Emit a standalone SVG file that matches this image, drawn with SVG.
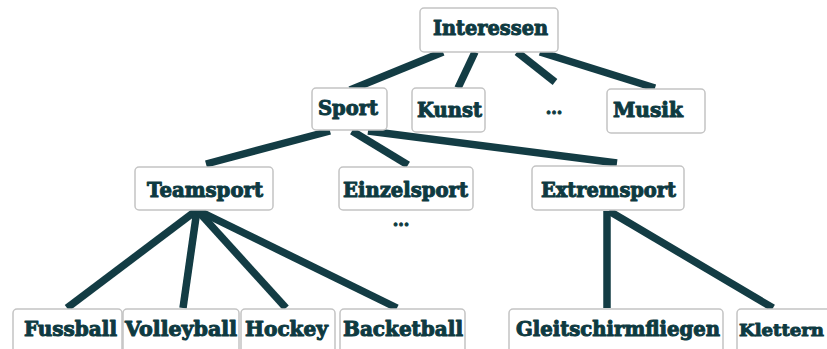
<svg xmlns="http://www.w3.org/2000/svg" width="827" height="349" viewBox="0 0 827 349">
  <style>
    .box { fill: #ffffff; stroke: #c4c4c4; stroke-width: 1.5; }
    .lbl { font-family: "DejaVu Serif", "Liberation Serif", serif; font-weight: bold; font-size: 19.5px; fill: #0e3a41; stroke: #0e3a41; stroke-width: 1; stroke-linejoin: round; }
    .dots { font-family: "DejaVu Serif", "Liberation Serif", serif; font-weight: bold; font-size: 16px; fill: #0e3a41; stroke: #0e3a41; stroke-width: 1; text-anchor: middle; }
    .edge { stroke: #133c44; stroke-width: 7.5; stroke-linecap: butt; fill: none; }
  </style>
  <rect width="827" height="349" fill="#ffffff"/>

  <g id="connectors">
    <line class="edge" x1="443" y1="52" x2="350" y2="90"/>
    <line class="edge" x1="475" y1="52" x2="458" y2="88"/>
    <line class="edge" x1="517" y1="52" x2="555" y2="82"/>
    <line class="edge" x1="540" y1="52" x2="655" y2="88"/>
    <line class="edge" x1="330" y1="131" x2="206" y2="164"/>
    <line class="edge" x1="352" y1="131" x2="408" y2="165"/>
    <line class="edge" x1="368" y1="131" x2="617" y2="163"/>
    <line class="edge" x1="197" y1="210" x2="67" y2="308"/>
    <line class="edge" x1="197" y1="210" x2="183" y2="308"/>
    <line class="edge" x1="197" y1="210" x2="286" y2="308"/>
    <line class="edge" x1="197" y1="210" x2="397" y2="308"/>
    <line class="edge" x1="607" y1="211" x2="607" y2="308"/>
    <line class="edge" x1="609" y1="211" x2="773" y2="308"/>
  </g>

  <g id="interessen">
    <rect class="box" x="420" y="8" width="138" height="44" rx="4"/>
    <text class="lbl" x="433" y="35" textLength="115" lengthAdjust="spacingAndGlyphs">Interessen</text>
  </g>
  <g id="sport">
    <rect class="box" x="312" y="88" width="75" height="42" rx="4"/>
    <text class="lbl" x="318" y="115" textLength="60" lengthAdjust="spacingAndGlyphs">Sport</text>
  </g>
  <g id="kunst">
    <rect class="box" x="412" y="88" width="73" height="44" rx="4"/>
    <text class="lbl" x="417" y="117" textLength="65" lengthAdjust="spacingAndGlyphs">Kunst</text>
  </g>
  <g id="more-interests">
    <text class="dots" x="554" y="114">...</text>
  </g>
  <g id="musik">
    <rect class="box" x="607" y="89" width="98" height="44" rx="4"/>
    <text class="lbl" x="613" y="117" textLength="70" lengthAdjust="spacingAndGlyphs">Musik</text>
  </g>
  <g id="teamsport">
    <rect class="box" x="135" y="167" width="138" height="43" rx="4"/>
    <text class="lbl" x="147" y="197" textLength="116" lengthAdjust="spacingAndGlyphs">Teamsport</text>
  </g>
  <g id="einzelsport">
    <rect class="box" x="339" y="167" width="134" height="43" rx="4"/>
    <text class="lbl" x="343" y="197" textLength="125" lengthAdjust="spacingAndGlyphs">Einzelsport</text>
    <text class="dots" x="401" y="226">...</text>
  </g>
  <g id="extremsport">
    <rect class="box" x="532" y="166" width="152" height="44" rx="4"/>
    <text class="lbl" x="541" y="197" textLength="135" lengthAdjust="spacingAndGlyphs">Extremsport</text>
  </g>
  <g id="fussball">
    <rect class="box" x="13" y="309" width="109" height="60" rx="4"/>
    <text class="lbl" x="24" y="336" textLength="93" lengthAdjust="spacingAndGlyphs">Fussball</text>
  </g>
  <g id="volleyball">
    <rect class="box" x="123" y="309" width="116" height="60" rx="4"/>
    <text class="lbl" x="125" y="336" textLength="112" lengthAdjust="spacingAndGlyphs">Volleyball</text>
  </g>
  <g id="hockey">
    <rect class="box" x="241" y="309" width="94" height="60" rx="4"/>
    <text class="lbl" x="245" y="336" textLength="83" lengthAdjust="spacingAndGlyphs">Hockey</text>
  </g>
  <g id="backetball">
    <rect class="box" x="340" y="309" width="125" height="60" rx="4"/>
    <text class="lbl" x="343" y="336" textLength="120" lengthAdjust="spacingAndGlyphs">Backetball</text>
  </g>
  <g id="gleitschirmfliegen">
    <rect class="box" x="509" y="309" width="214" height="60" rx="4"/>
    <text class="lbl" x="516" y="336" textLength="204" lengthAdjust="spacingAndGlyphs">Gleitschirmfliegen</text>
  </g>
  <g id="klettern">
    <rect class="box" x="737" y="309" width="110" height="60" rx="4"/>
    <text class="lbl" x="739" y="336" style="font-size:17.5px" textLength="85" lengthAdjust="spacingAndGlyphs">Klettern</text>
  </g>
</svg>
